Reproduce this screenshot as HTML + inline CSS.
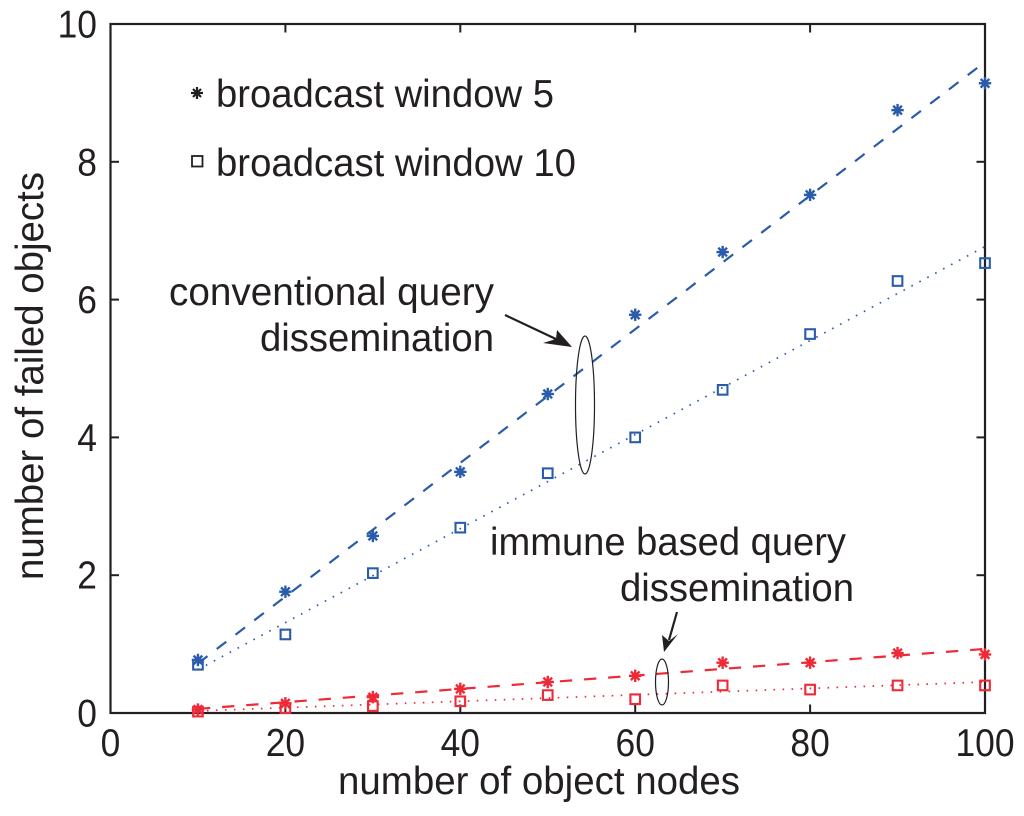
<!DOCTYPE html>
<html>
<head>
<meta charset="utf-8">
<title>Failed objects chart</title>
<style>
html,body{margin:0;padding:0;background:#fff;}
svg{display:block;}
text{font-family:"Liberation Sans",sans-serif;fill:#231f20;font-size:38.5px;}
</style>
</head>
<body>
<svg id="chart" xmlns="http://www.w3.org/2000/svg" width="1024" height="816" viewBox="0 0 1024 816">
  <rect x="110.5" y="24" width="874.5" height="689" fill="none" stroke="#231f20" stroke-width="2.2"/>
  <g id="ticks"></g>
  <g id="series"></g>

  <text x="338" y="794" textLength="402" lengthAdjust="spacingAndGlyphs">number of object nodes</text>
  <text transform="translate(43,580) rotate(-90)" textLength="408" lengthAdjust="spacingAndGlyphs">number of failed objects</text>

  <g>
    <g stroke="#231f20" stroke-width="2.2">
      <line x1="191" y1="93" x2="203" y2="93"/><line x1="197" y1="87" x2="197" y2="99"/>
      <line x1="193" y1="89" x2="201" y2="97"/><line x1="193" y1="97" x2="201" y2="89"/>
    </g>
    <text x="216" y="107" textLength="338" lengthAdjust="spacingAndGlyphs">broadcast window 5</text>
    <rect x="192" y="156" width="10.5" height="10.5" fill="none" stroke="#231f20" stroke-width="1.8"/>
    <text x="216" y="176" textLength="360" lengthAdjust="spacingAndGlyphs">broadcast window 10</text>
  </g>

  <g>
    <text x="169" y="305" textLength="325" lengthAdjust="spacingAndGlyphs">conventional query</text>
    <text x="260" y="351" textLength="234" lengthAdjust="spacingAndGlyphs">dissemination</text>
    <line x1="505" y1="315" x2="558" y2="340" stroke="#231f20" stroke-width="2.2"/>
    <polygon points="572,347 543,343 556,339 557,330" fill="#231f20"/>
    <ellipse cx="585" cy="405" rx="9.5" ry="69" fill="none" stroke="#231f20" stroke-width="1.2"/>
  </g>

  <g>
    <text x="490" y="555" textLength="356" lengthAdjust="spacingAndGlyphs">immune based query</text>
    <text x="620" y="601" textLength="234" lengthAdjust="spacingAndGlyphs">dissemination</text>
    <line x1="677" y1="612" x2="669" y2="640" stroke="#231f20" stroke-width="2.2"/>
    <polygon points="664,652 662,635 669,641 678,634" fill="#231f20"/>
    <ellipse cx="662" cy="682" rx="6.5" ry="23" fill="none" stroke="#231f20" stroke-width="1.2"/>
  </g>
</svg>
<script>
var xTickValues = [0, 20, 40, 60, 80, 100];
var yTickValues = [0, 2, 4, 6, 8, 10];
var categories = [10, 20, 30, 40, 50, 60, 70, 80, 90, 100];
var conventionalWindow5 = [0.77, 1.76, 2.57, 3.50, 4.63, 5.78, 6.69, 7.52, 8.75, 9.14];
var conventionalWindow10 = [0.70, 1.14, 2.03, 2.69, 3.48, 4.00, 4.69, 5.50, 6.27, 6.53];
var immuneWindow5 = [0.05, 0.14, 0.23, 0.35, 0.45, 0.54, 0.73, 0.73, 0.87, 0.85];
var immuneWindow10 = [0.02, 0.07, 0.10, 0.17, 0.26, 0.20, 0.40, 0.34, 0.40, 0.40];
var fitX = [10, 100];
var conventionalFit5 = [0.72, 9.45];
var conventionalFit10 = [0.63, 6.77];
var immuneFit5 = [0.06, 0.93];
var immuneFit10 = [0.03, 0.45];

var NS = 'http://www.w3.org/2000/svg';
var BLUE = '#2a5caa';
var RED = '#ee2a37';
var INK = '#231f20';
function xScale(v) { return 110.5 + v / 100 * 874.5; }
function yScale(v) { return 713 - v / 10 * 689; }
function make(tag, attrs, parent) {
  var el = document.createElementNS(NS, tag);
  for (var k in attrs) el.setAttribute(k, attrs[k]);
  parent.appendChild(el);
  return el;
}
function digitWidth(v) { return String(v).length * 19.7; }

var tickLayer = document.getElementById('ticks');
xTickValues.forEach(function (v) {
  var x = xScale(v);
  if (v > 0 && v < 100) {
    var b = make('line', {x1: x, x2: x, y1: 713, y2: 704.5, stroke: INK, 'stroke-width': 2}, tickLayer);
    
    
    var t = make('line', {x1: x, x2: x, y1: 24, y2: 32.5, stroke: INK, 'stroke-width': 2}, tickLayer);
    
    
  }
  var lab = make('text', {x: x - digitWidth(v) / 2, y: 756, textLength: digitWidth(v), lengthAdjust: 'spacingAndGlyphs'}, tickLayer);
  lab.textContent = String(v);
  
  
});
yTickValues.forEach(function (v) {
  var y = yScale(v);
  if (v > 0 && v < 10) {
    var l = make('line', {x1: 110.5, x2: 119, y1: y, y2: y, stroke: INK, 'stroke-width': 2}, tickLayer);
    
    
    var r = make('line', {x1: 985, x2: 976.5, y1: y, y2: y, stroke: INK, 'stroke-width': 2}, tickLayer);
    
    
  }
  var lab = make('text', {x: 97 - digitWidth(v), y: y + 13.5, textLength: digitWidth(v), lengthAdjust: 'spacingAndGlyphs'}, tickLayer);
  lab.textContent = String(v);
  
  
});

var seriesLayer = document.getElementById('series');
function drawFit(values, color, dash, width, cap) {
  var line = make('line', {
    x1: xScale(fitX[0]), y1: yScale(values[0]),
    x2: xScale(fitX[1]), y2: yScale(values[1]),
    stroke: color, 'stroke-width': width, 'stroke-dasharray': dash, fill: 'none'
  }, seriesLayer);
  
  
}
function drawStars(values, color) {
  values.forEach(function (v, i) {
    var cx = xScale(categories[i]), cy = yScale(v), r = 6.2;
    var g = make('g', {stroke: color, 'stroke-width': 2.4}, seriesLayer);
    
    
    [[1, 0], [0, 1], [0.7, 0.7], [0.7, -0.7]].forEach(function (d) {
      make('line', {x1: cx - d[0] * r, y1: cy - d[1] * r, x2: cx + d[0] * r, y2: cy + d[1] * r}, g);
    });
  });
}
function drawSquares(values, color) {
  values.forEach(function (v, i) {
    var cx = xScale(categories[i]), cy = yScale(v), s = 9.6;
    var sq = make('rect', {x: cx - s / 2, y: cy - s / 2, width: s, height: s, fill: 'none', stroke: color, 'stroke-width': 2.1}, seriesLayer);
    
    
  });
}
drawFit(conventionalFit5, BLUE, '12 11.63', 2.2);
drawFit(conventionalFit10, BLUE, '1.6 7.4', 1.7);
drawFit(immuneFit5, RED, '12.3 11.9', 2.2);
drawFit(immuneFit10, RED, '1.6 7.4', 1.7);
drawStars(conventionalWindow5, BLUE);
drawSquares(conventionalWindow10, BLUE);
drawStars(immuneWindow5, RED);
drawSquares(immuneWindow10, RED);
</script>
</body>
</html>
